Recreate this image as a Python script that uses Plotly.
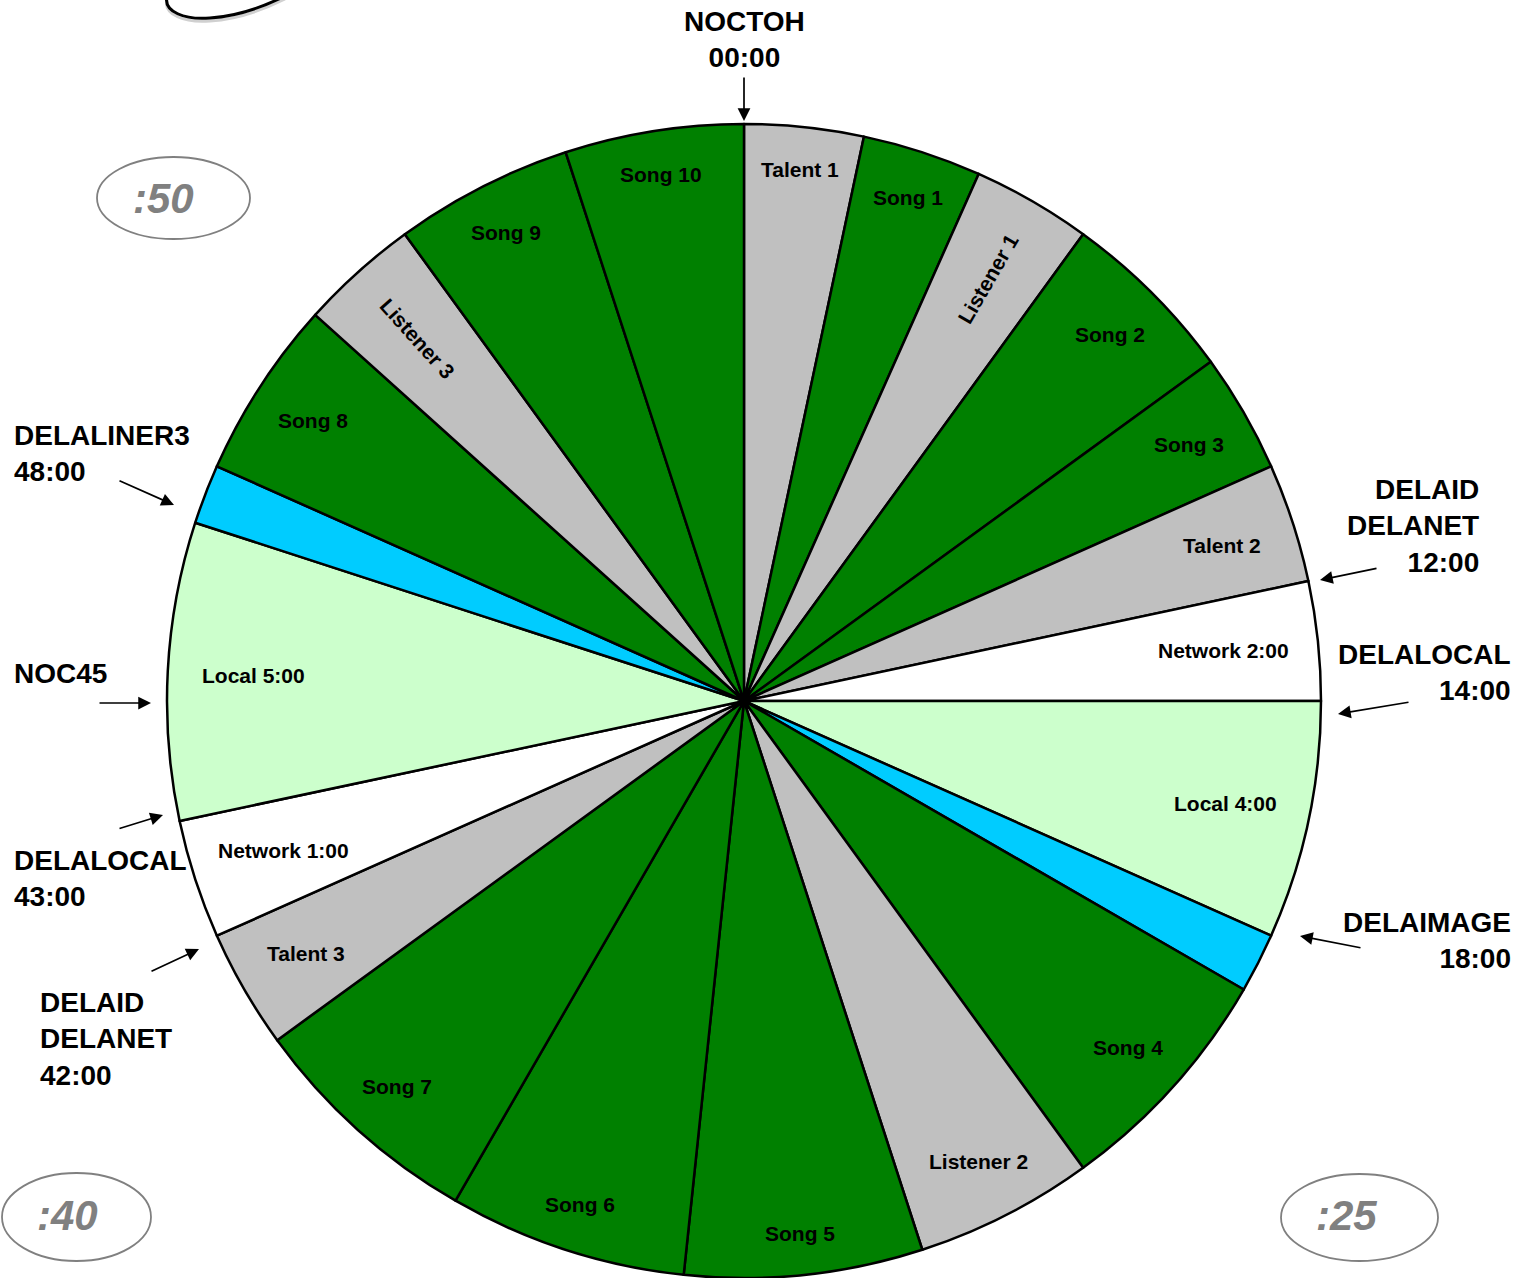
import math
import plotly.graph_objects as go

# ---------------- data ----------------
segments = ["Talent 1", "Song 1", "Listener 1", "Song 2", "Song 3", "Talent 2",
            "Network 2:00", "Local 4:00", "Image", "Song 4", "Listener 2", "Song 5",
            "Song 6", "Song 7", "Talent 3", "Network 1:00", "Local 5:00", "Liner",
            "Song 8", "Listener 3", "Song 9", "Song 10"]
minutes = [2, 2, 2, 3, 2, 2, 2, 4, 1, 4, 3, 4, 4, 4, 2, 2, 5, 1, 3, 2, 3, 3]
kinds = ["talk", "song", "talk", "song", "song", "talk", "network", "local", "image",
         "song", "talk", "song", "song", "song", "talk", "network", "local", "image",
         "song", "talk", "song", "song"]
shown_labels = ["Talent 1", "Song 1", "Listener 1", "Song 2", "Song 3", "Talent 2",
                "Network 2:00", "Local 4:00", "", "Song 4", "Listener 2", "Song 5",
                "Song 6", "Song 7", "Talent 3", "Network 1:00", "Local 5:00", "",
                "Song 8", "Listener 3", "Song 9", "Song 10"]
radial_labels = {"Listener 1", "Listener 3"}

markers = ["NOCTOH<br>00:00", "DELAID<br>DELANET<br>12:00", "DELALOCAL<br>14:00",
           "DELAIMAGE<br>18:00", "DELALINER3<br>48:00", "NOC45",
           "DELALOCAL<br>43:00", "DELAID<br>DELANET<br>42:00"]
quarter_marks = [":50", ":40", ":25"]

# ---------------- style ----------------
kind_colors = {"song": "#008000", "talk": "#C0C0C0", "network": "#FFFFFF",
               "local": "#CCFFCC", "image": "#00CCFF"}
W, H = 1532, 1278
cx, cy, R = 744, 701, 577
FONT = "Liberation Sans, Arial, Helvetica, sans-serif"

def px(x):
    return x / W

def py(y):
    return 1 - y / H

fig = go.Figure(go.Pie(
    labels=segments, values=minutes, sort=False, direction="clockwise", rotation=0,
    marker=dict(colors=[kind_colors[k] for k in kinds], line=dict(color="black", width=2.5)),
    textinfo="none", hoverinfo="label+value", showlegend=False,
    domain=dict(x=[px(cx - R), px(cx + R)], y=[py(cy + R), py(cy - R)]),
))

annotations = []
total = sum(minutes)
start = 0
LFS = 21
for lab, m in zip(shown_labels, minutes):
    mid = start + m / 2
    start += m
    if not lab:
        continue
    theta = 360 * mid / total
    t = math.radians(theta)
    hw = 0.27 * LFS * len(lab)
    if lab in radial_labels:
        r = 542 - hw * 0.95
        ang = theta - 90 if theta < 180 else theta - 270
    else:
        r = 538 - 0.825 * hw * abs(math.sin(t))
        ang = 0
    x = cx + r * math.sin(t)
    y = cy - r * math.cos(t)
    annotations.append(dict(x=px(x), y=py(y), xref="paper", yref="paper",
                            text="<b>" + lab + "</b>", showarrow=False, textangle=ang,
                            font=dict(family=FONT, size=LFS, color="black"),
                            xanchor="center", yanchor="middle"))

# outside marker labels: (x, y center, anchor)
mfs = 28
marker_pos = [(744, 39.5, "center"), (1481, 526, "right"), (1513, 672, "right"),
              (1513, 940, "right"), (12, 453, "left"), (12, 673, "left"),
              (12, 878, "left"), (38, 1039, "left")]
for txt, (x, y, anc) in zip(markers, marker_pos):
    annotations.append(dict(x=px(x), y=py(y), xref="paper", yref="paper",
                            text="<b>" + txt + "</b>", showarrow=False,
                            align=anc, xanchor=anc, yanchor="middle",
                            font=dict(family=FONT, size=mfs, color="black")))

# arrows: head (x, y), tail (x, y)
arrows = [((744, 121), (744, 76)), ((1320, 580), (1378, 568)), ((1338, 714), (1410, 702)),
          ((1300, 936), (1362, 948)), ((174, 505), (118, 480)), ((151, 703), (98, 703)),
          ((163, 815), (118, 829)), ((199, 949), (150, 972))]
for (hx, hy), (tx, ty) in arrows:
    annotations.append(dict(x=px(hx), y=py(hy), xref="paper", yref="paper", text="",
                            showarrow=True, ax=tx - hx, ay=ty - hy, arrowhead=2,
                            arrowsize=1.5, arrowwidth=1.7, arrowcolor="black", standoff=0))

# quarter-hour ellipses
ellipses = [(97, 157, 250, 239, 163, 198), (2, 1173, 151, 1261, 67, 1215),
            (1281, 1174, 1438, 1261, 1346, 1215)]
shapes = []
for txt, (x0, y0, x1, y1, tx, ty) in zip(quarter_marks, ellipses):
    shapes.append(dict(type="circle", xref="paper", yref="paper",
                       x0=px(x0), x1=px(x1), y0=py(y1), y1=py(y0),
                       line=dict(color="#808080", width=1.8), fillcolor="rgba(0,0,0,0)"))
    annotations.append(dict(x=px(tx), y=py(ty), xref="paper", yref="paper",
                            text="<b><i>" + txt + "</i></b>", showarrow=False,
                            xanchor="center", yanchor="middle",
                            font=dict(family=FONT, size=42, color="#808080", weight="bold")))

# decorative curve cut off at the top-left
def curve(dy):
    pts = [(167, -4 + dy), (163, 12 + dy), (185, 20 + dy), (210, 18 + dy),
           (240, 16 + dy), (265, 6 + dy), (285, -4 + dy)]
    p = [(px(a), py(b)) for a, b in pts]
    return ("M {:.5f},{:.5f} C {:.5f},{:.5f} {:.5f},{:.5f} {:.5f},{:.5f} "
            "C {:.5f},{:.5f} {:.5f},{:.5f} {:.5f},{:.5f}").format(*[v for q in p for v in q])

shapes.append(dict(type="path", xref="paper", yref="paper", path=curve(3),
                   line=dict(color="#D0D0D0", width=3)))
shapes.append(dict(type="path", xref="paper", yref="paper", path=curve(0),
                   line=dict(color="black", width=3)))

fig.update_layout(width=W, height=H, margin=dict(l=0, r=0, t=0, b=0),
                  paper_bgcolor="white", plot_bgcolor="white",
                  annotations=annotations, shapes=shapes,
                  font=dict(family=FONT))
fig.write_html("out.html", config={"displayModeBar": False},
               post_script="document.body.style.margin='0';document.body.style.overflow='hidden';")
